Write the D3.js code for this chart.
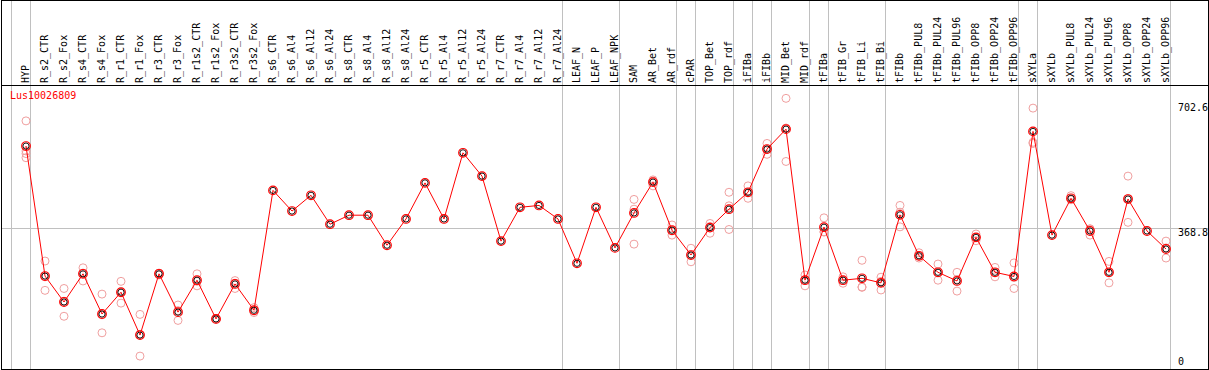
<!DOCTYPE html>
<html>
<head>
<meta charset="utf-8">
<script src="https://cdn.jsdelivr.net/npm/d3@7"></script>
<style>
    body { margin: 0; background: #fff; }
    svg { display: block; }
    text { font-family: "DejaVu Sans Mono", monospace; font-size: 10px; }
</style>
</head>
<body>
<div id="chart"></div>
<script>
const geneName = 'Lus10026809'

const categories = ['HYP', 'R_s2_CTR', 'R_s2_Fox', 'R_s4_CTR', 'R_s4_Fox', 'R_r1_CTR', 'R_r1_Fox', 'R_r3_CTR', 'R_r3_Fox',
    'R_r1s2_CTR', 'R_r1s2_Fox', 'R_r3s2_CTR', 'R_r3s2_Fox', 'R_s6_CTR', 'R_s6_Al4', 'R_s6_Al12', 'R_s6_Al24',
    'R_s8_CTR', 'R_s8_Al4', 'R_s8_Al12', 'R_s8_Al24', 'R_r5_CTR', 'R_r5_Al4', 'R_r5_Al12', 'R_r5_Al24',
    'R_r7_CTR', 'R_r7_Al4', 'R_r7_Al12', 'R_r7_Al24', 'LEAF_N', 'LEAF_P', 'LEAF_NPK', 'SAM', 'AR_Bet', 'AR_rdf',
    'cPAR', 'TOP_Bet', 'TOP_rdf', 'iFIBa', 'iFIBb', 'MID_Bet', 'MID_rdf', 'tFIBa', 'tFIB_Gr', 'tFIB_Li', 'tFIB_Bi',
    'tFIBb', 'tFIBb_PUL8', 'tFIBb_PUL24', 'tFIBb_PUL96', 'tFIBb_OPP8', 'tFIBb_OPP24', 'tFIBb_OPP96',
    'sXYLa', 'sXYLb', 'sXYLb_PUL8', 'sXYLb_PUL24', 'sXYLb_PUL96', 'sXYLb_OPP8', 'sXYLb_OPP24', 'sXYLb_OPP96']

// mean expression per sample
const means = [588, 242, 173, 248, 141, 199, 85, 248, 146, 231, 128, 221, 151, 470, 415, 457, 380, 404, 404, 324,
    394, 490, 394, 570, 508, 335, 425, 430, 394, 276, 425, 317, 410, 492, 364, 298, 371, 420, 465, 580, 633,
    231, 372, 231, 236, 224, 405, 296, 252, 229, 345, 252, 241, 627, 351, 449, 362, 252, 447, 362, 314]

// single replicates per sample
const replicates = [
    [655, 575, 568, 557], [282, 204, 240], [209, 135, 175], [264, 229, 250], [194, 91, 139], [228, 170, 199],
    [140, 29, 87], [245, 250, 249], [165, 124, 150], [248, 216, 228], [126, 129, 128], [230, 209, 223],
    [158, 145, 150], [], [], [], [], [], [], [], [], [], [], [], [], [], [], [], [], [], [], [],
    [446, 420, 327], [498, 482, 495], [378, 351, 363], [316, 280, 298], [382, 356, 374], [465, 366, 429],
    [482, 449, 465], [595, 566, 579], [715, 547, 636], [245, 216, 232], [397, 360, 359], [240, 223, 230],
    [284, 212, 213], [239, 205, 228], [430, 373, 412], [304, 290, 295], [274, 231, 251], [252, 202, 233],
    [354, 336, 345], [265, 240, 251], [277, 209, 238], [689, 598, 595], [], [456, 445, 446], [368, 351, 367],
    [281, 224, 251], [508, 385, 448], [], [335, 290, 317]]

// last sample of every tissue group (separator drawn after it)
const groupEnds = ['HYP', 'R_r7_Al24', 'LEAF_NPK', 'AR_rdf', 'cPAR', 'TOP_rdf', 'iFIBa', 'iFIBb', 'MID_rdf',
    'tFIBa', 'tFIB_Bi', 'tFIBb_OPP96', 'sXYLa', 'sXYLb_OPP96']

const yTicks = [0, 368.8, 702.6]

const width = 1209
const height = 370
const headerHeight = 85

const svg = d3.select('#chart').append('svg')
    .attr('width', width)
    .attr('height', height)

const x = d3.scalePoint()
    .domain(categories)
    .range([26, 1166])

const y = d3.scaleLinear()
    .domain([0, 702.6])
    .range([367, 103])

const step = x.step()

//group separators (one before the first sample as well)
const sepX = [x(categories[0]) - step + 4.5].concat(groupEnds.map(c => x(c) + 4.5))
svg.append('g')
    .selectAll('line')
    .data(sepX)
    .join('line')
    .attr('x1', d => d)
    .attr('x2', d => d)
    .attr('y1', 0)
    .attr('y2', height - 1)
    .attr('stroke', '#c0c0c0')

//horizontal grid line at middle tick
svg.append('line')
    .attr('x1', 2)
    .attr('x2', width - 1)
    .attr('y1', Math.round(y(yTicks[1])) + 0.5)
    .attr('y2', Math.round(y(yTicks[1])) + 0.5)
    .attr('stroke', '#c0c0c0')

//frame and header separator
svg.append('rect')
    .attr('x', 1.5)
    .attr('y', 0.5)
    .attr('width', 1207)
    .attr('height', 369)
    .attr('fill', 'none')
    .attr('stroke', 'black')

svg.append('line')
    .attr('x1', 1)
    .attr('x2', width - 1)
    .attr('y1', headerHeight + 0.5)
    .attr('y2', headerHeight + 0.5)
    .attr('stroke', 'black')

//sample names
svg.append('g')
    .selectAll('text')
    .data(categories)
    .join('text')
    .attr('transform', d => `translate(${x(d) + 3}, ${headerHeight - 2}) rotate(-90)`)
    .attr('fill', 'black')
    .text(d => d)

//right axis labels
svg.append('g')
    .selectAll('text')
    .data(yTicks)
    .join('text')
    .attr('x', 1178)
    .attr('y', d => Math.min(y(d) + 8, 364.5))
    .attr('fill', 'black')
    .text(d => d)

//gene name
svg.append('text')
    .attr('x', 10)
    .attr('y', 99)
    .attr('fill', 'red')
    .text(geneName)

//replicate points
const reps = categories.flatMap((c, i) => replicates[i].map(v => ({c, v})))
svg.append('g')
    .selectAll('circle')
    .data(reps)
    .join('circle')
    .attr('cx', d => x(d.c))
    .attr('cy', d => y(d.v))
    .attr('r', 4)
    .attr('fill', 'none')
    .attr('stroke', '#f0a0a0')

//mean line
const line = d3.line()
    .x((d, i) => x(categories[i]))
    .y(d => y(d))

svg.append('path')
    .datum(means)
    .attr('d', line)
    .attr('fill', 'none')
    .attr('stroke', 'red')

//mean points
const meanPts = svg.append('g')
    .selectAll('g')
    .data(means)
    .join('g')
    .attr('transform', (d, i) => `translate(${x(categories[i])}, ${y(d)})`)

meanPts.append('circle')
    .attr('r', 4.3)
    .attr('fill', 'none')
    .attr('stroke', 'red')
    .attr('stroke-width', 1.2)

meanPts.append('circle')
    .attr('r', 3.1)
    .attr('fill', 'none')
    .attr('stroke', 'black')
    .attr('stroke-width', 0.9)
</script>
</body>
</html>
